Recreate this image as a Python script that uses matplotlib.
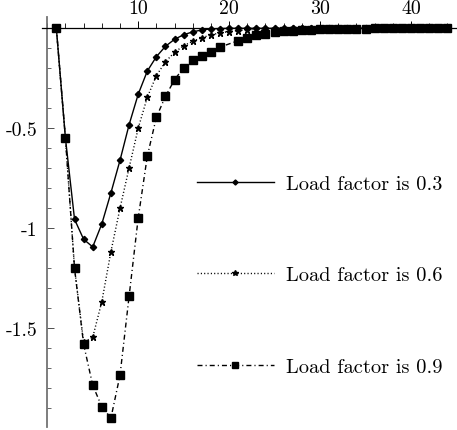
import numpy as np
import matplotlib.pyplot as plt
from matplotlib.ticker import FixedLocator, FixedFormatter, MultipleLocator

plt.rcParams['font.family'] = ['cmr10', 'DejaVu Serif']
plt.rcParams['axes.unicode_minus'] = False

# step index
x_all = list(range(1, 45))

# load factor 0.3
y_03 = [0, -0.55, -0.955, -1.055, -1.093, -0.978, -0.823, -0.66, -0.482, -0.33,
        -0.214, -0.142, -0.09, -0.055, -0.032, -0.018, -0.008, -0.003, -0.001, 0,
        0, 0, 0, 0, 0, 0, 0, 0, 0, 0,
        0, 0, 0, 0, 0, 0, 0, 0, 0, 0,
        0, 0, 0, 0]

# load factor 0.6
y_06 = [0, -0.55, -1.2, -1.57, -1.545, -1.367, -1.117, -0.9, -0.698, -0.5,
        -0.345, -0.237, -0.167, -0.12, -0.087, -0.065, -0.047, -0.033, -0.023, -0.016,
        -0.011, -0.007, -0.005, -0.003, -0.002, -0.001, 0, 0, 0, 0,
        0, 0, 0, 0, 0, 0, 0, 0, 0, 0,
        0, 0, 0, 0]

# load factor 0.9 (no point at 20)
x_09 = [x for x in x_all if x != 20]
y_09 = [0, -0.55, -1.2, -1.58, -1.785, -1.892, -1.949, -1.735, -1.34, -0.949,
        -0.64, -0.445, -0.34, -0.257, -0.197, -0.16, -0.14, -0.117, -0.094,
        -0.062, -0.05, -0.035, -0.027, -0.02, -0.015, -0.012, -0.009, -0.007, -0.005,
        -0.004, -0.003, -0.002, -0.001, -0.001, 0, 0, 0, 0, 0,
        0, 0, 0, 0]

labels = ['Load factor is 0.3', 'Load factor is 0.6', 'Load factor is 0.9']
y_ticks = [-0.5, -1, -1.5]
y_tick_labels = ['-0.5', '-1', '-1.5']
x_ticks = [10, 20, 30, 40]

W, H = 457, 431
fig = plt.figure(figsize=(W/100, H/100), dpi=100)
ax = fig.add_axes([41.8/W, 3/H, (456-41.8)/W, (428-18)/H])

ax.plot(x_all, y_03, color='black', lw=1.0, marker='D', ms=3.2, label=labels[0])
ax.plot(x_all, y_06, color='black', lw=1.0, ls=(0, (0.8, 1.6)), marker='*', ms=5,
        label=labels[1])
ax.plot(x_09, y_09, color='black', lw=1.0, ls=(0, (3.6, 2.2, 0.8, 2.2)), marker='s',
        ms=5.5, label=labels[2])

ax.set_xlim(-0.6, 44.95)
ax.set_ylim(-1.9935, 0.0565)

ax.spines['right'].set_visible(False)
ax.spines['bottom'].set_visible(False)
ax.spines['top'].set_position(('data', 0))
ax.spines['left'].set_position(('data', 0))
ax.spines['top'].set_linewidth(0.9)
ax.spines['left'].set_color('0.45')
ax.spines['left'].set_linewidth(1.3)

ax.xaxis.tick_top()
ax.xaxis.set_major_locator(FixedLocator(x_ticks))
ax.xaxis.set_minor_locator(MultipleLocator(2))
ax.yaxis.set_major_locator(FixedLocator(y_ticks))
ax.yaxis.set_major_formatter(FixedFormatter(y_tick_labels))
ax.yaxis.set_minor_locator(MultipleLocator(0.1))

ax.tick_params(axis='x', which='major', direction='out', length=5, width=0.7, pad=3,
               labelsize=14.3)
ax.tick_params(axis='x', which='minor', direction='out', length=3.5, width=0.6)
ax.tick_params(axis='y', which='major', direction='in', length=5, width=0.7, pad=7,
               labelsize=14.3, color='0.3')
ax.tick_params(axis='y', which='minor', direction='in', length=3, width=0.6, color='0.3')

ax.legend(loc='upper left', bbox_to_anchor=(197/W, 1 - 176/H),
          bbox_transform=fig.transFigure, frameon=False, fontsize=14.7,
          handlelength=3.75, handletextpad=0.6, labelspacing=3.57,
          borderpad=0, borderaxespad=0, markerscale=0.8)

fig.savefig('out.png', dpi=100)
